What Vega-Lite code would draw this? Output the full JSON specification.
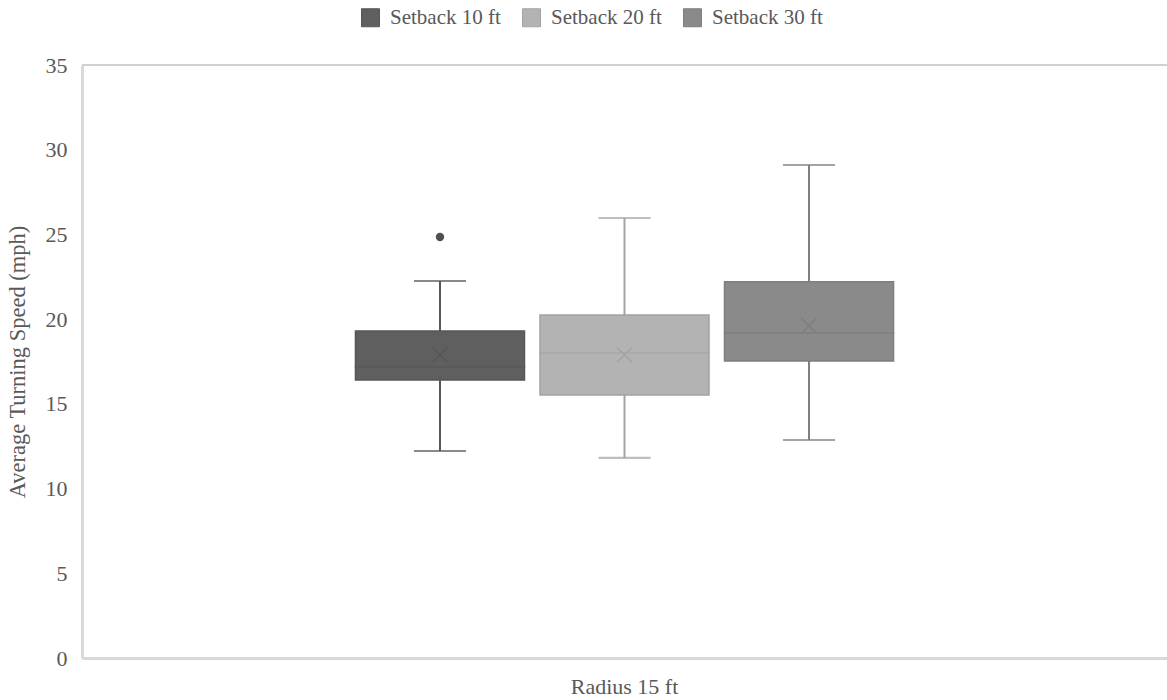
{
  "$schema": "https://vega.github.io/schema/vega-lite/v6.json",
  "autosize": "none",
  "width": 1085,
  "height": 593,
  "padding": {"left": 82, "top": 65, "right": 0, "bottom": 42},
  "background": "white",
  "config": {
    "view": {"stroke": null},
    "font": "Liberation Serif",
    "axis": {"labelFont": "Liberation Serif", "titleFont": "Liberation Serif", "labelColor": "#595959", "titleColor": "#595959", "grid": false, "ticks": false, "domainColor": "#d9d9d9", "domainWidth": 3}
  },
  "datasets": {
    "stats": [
      {"radius": "Radius 15 ft", "setback": "Setback 10 ft", "low": 12.22, "q1": 16.41, "median": 17.18, "q3": 19.3, "high": 22.25, "mean": 17.89},
      {"radius": "Radius 15 ft", "setback": "Setback 20 ft", "low": 11.81, "q1": 15.53, "median": 18.0, "q3": 20.25, "high": 25.97, "mean": 17.89},
      {"radius": "Radius 15 ft", "setback": "Setback 30 ft", "low": 12.87, "q1": 17.53, "median": 19.19, "q3": 22.2, "high": 29.1, "mean": 19.6}
    ],
    "outliers": [
      {"radius": "Radius 15 ft", "setback": "Setback 10 ft", "value": 24.85}
    ]
  },
  "data": {"name": "stats"},
  "encoding": {
    "x": {"field": "radius", "type": "nominal", "scale": {"paddingOuter": 0.48, "paddingInner": 0}, "axis": {"title": null, "labelFontSize": 22, "labelPadding": 18, "labelAngle": 0}},
    "xOffset": {"field": "setback", "type": "nominal", "scale": {"paddingInner": 0.084, "paddingOuter": 0.042}}
  },
  "layer": [
    {
      "mark": {"type": "rule", "strokeWidth": 1.5, "color": "#d0d0d0"},
      "encoding": {"y": {"datum": 35, "type": "quantitative"}, "xOffset": null, "x": null}
    },
    {
      "mark": {"type": "rule", "strokeWidth": 2},
      "encoding": {
        "y": {"field": "low", "type": "quantitative", "scale": {"domain": [0, 35], "nice": false}, "axis": {"values": [0,5,10,15,20,25,30,35], "title": "Average Turning Speed (mph)", "labelFontSize": 22, "labelPadding": 15, "titleFontSize": 22.5, "titleFontWeight": "normal", "titlePadding": 16}},
        "y2": {"field": "high"},
        "stroke": {"field": "setback", "type": "nominal", "scale": {"domain": ["Setback 10 ft", "Setback 20 ft", "Setback 30 ft"], "range": ["#575757", "#a3a3a3", "#7e7e7e"]}}
      }
    },
    {
      "mark": {"type": "tick", "size": 50, "thickness": 0.1, "filled": false, "strokeWidth": 2},
      "encoding": {
        "y": {"field": "low", "type": "quantitative"},
        "stroke": {"field": "setback", "type": "nominal"}
      }
    },
    {
      "mark": {"type": "tick", "size": 50, "thickness": 0.1, "filled": false, "strokeWidth": 2},
      "encoding": {
        "y": {"field": "high", "type": "quantitative"},
        "stroke": {"field": "setback", "type": "nominal"}
      }
    },
    {
      "mark": {"type": "bar", "strokeWidth": 1.5},
      "encoding": {
        "y": {"field": "q1", "type": "quantitative"},
        "y2": {"field": "q3"},
        "color": {"field": "setback", "type": "nominal", "title": null, "scale": {"domain": ["Setback 10 ft", "Setback 20 ft", "Setback 30 ft"], "range": ["#5f5f5f", "#b3b3b3", "#8a8a8a"]},
          "legend": {"orient": "none", "direction": "horizontal", "columns": 3, "legendX": 278, "legendY": -58, "symbolType": "square", "symbolSize": 324, "symbolStrokeWidth": 1, "symbolOpacity": 1, "labelFont": "Liberation Serif", "labelFontSize": 21, "labelColor": "#595959", "labelOffset": 9, "columnPadding": 19, "padding": 0, "encode": {"symbols": {"update": {"fillOpacity": {"value": 1}, "strokeOpacity": {"value": 1}, "opacity": {"value": 1}}}}}},
        "stroke": {"field": "setback", "type": "nominal", "title": null,
          "legend": {"orient": "none", "direction": "horizontal", "columns": 3, "legendX": 278, "legendY": -58, "symbolType": "square", "symbolSize": 324, "symbolStrokeWidth": 1, "symbolOpacity": 1, "labelFont": "Liberation Serif", "labelFontSize": 21, "labelColor": "#595959", "labelOffset": 9, "columnPadding": 19, "padding": 0, "encode": {"symbols": {"update": {"fillOpacity": {"value": 1}, "strokeOpacity": {"value": 1}, "opacity": {"value": 1}}}}}}
      }
    },
    {
      "mark": {"type": "tick", "size": 169, "thickness": 0.1, "filled": false, "strokeWidth": 1.5},
      "encoding": {
        "y": {"field": "median", "type": "quantitative"},
        "stroke": {"field": "setback", "type": "nominal"}
      }
    },
    {
      "mark": {"type": "point", "shape": "M-1,-1L1,1M-1,1L1,-1", "size": 220, "filled": false, "strokeWidth": 1.5, "opacity": 1},
      "encoding": {
        "y": {"field": "mean", "type": "quantitative"},
        "stroke": {"field": "setback", "type": "nominal"}
      }
    },
    {
      "data": {"name": "outliers"},
      "mark": {"type": "circle", "size": 70, "opacity": 1, "color": "#505050"},
      "encoding": {
        "y": {"field": "value", "type": "quantitative"}
      }
    }
  ]
}
